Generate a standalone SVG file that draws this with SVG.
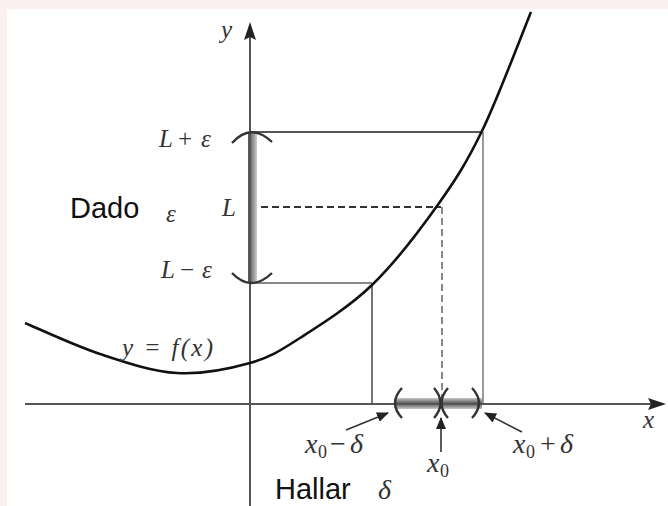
<svg xmlns="http://www.w3.org/2000/svg" width="668" height="506" viewBox="0 0 668 506">
<style>
.m{font-family:"Liberation Serif","DejaVu Serif",serif;font-style:italic;font-size:25px;fill:#333}
.mu{font-family:"Liberation Serif","DejaVu Serif",serif;font-size:25px;fill:#333}
.mb{font-family:"Liberation Serif","DejaVu Serif",serif;font-style:italic;font-size:28px;fill:#333}
.mbu{font-family:"Liberation Serif","DejaVu Serif",serif;font-size:28px;fill:#333}
.sub{font-family:"Liberation Serif","DejaVu Serif",serif;font-size:18px;fill:#333}
.t{font-family:"Liberation Sans",Arial,sans-serif;font-size:29px;fill:#111}
.ax{stroke:#555;stroke-width:2;fill:none}
.guide{stroke-width:2;fill:none}
.arr{stroke:#333;stroke-width:1.6;fill:none;marker-end:url(#ah)}
.par{stroke:#333;stroke-width:2.4;fill:none}
</style>
<defs>
<marker id="ah" viewBox="0 0 12 10" refX="11" refY="5" markerWidth="12" markerHeight="10" markerUnits="userSpaceOnUse" orient="auto">
<path d="M0 0 L12 5 L0 10 Z" fill="#222"/>
</marker>
<linearGradient id="hb" x1="0" y1="0" x2="0" y2="1">
<stop offset="0" stop-color="#c8c8c8"/>
<stop offset="0.5" stop-color="#555"/>
<stop offset="1" stop-color="#c8c8c8"/>
</linearGradient>
<linearGradient id="vb" x1="0" y1="0" x2="1" y2="0">
<stop offset="0" stop-color="#555"/>
<stop offset="0.5" stop-color="#888"/>
<stop offset="1" stop-color="#ccc"/>
</linearGradient>
</defs>
<rect x="0" y="0" width="668" height="506" fill="#fcf0f0"/>
<rect x="7" y="9" width="661" height="497" fill="#fff"/>

<g id="guides">
<line class="guide" x1="250" y1="132" x2="482" y2="132" stroke="#555"/>
<line class="guide" x1="483" y1="132" x2="483" y2="404" stroke="#9a9a9a"/>
<line class="guide" x1="250" y1="207" x2="441" y2="207" stroke="#333" stroke-dasharray="7,4"/>
<line class="guide" x1="442" y1="207" x2="442" y2="404" stroke="#888" stroke-dasharray="7,4"/>
<line class="guide" x1="250" y1="283" x2="372" y2="283" stroke="#888"/>
<line class="guide" x1="372" y1="285" x2="372" y2="404" stroke="#777"/>
</g>

<g id="bands">
<rect x="248" y="132" width="9" height="151" fill="url(#vb)"/>
<rect x="395" y="398" width="87" height="11" fill="url(#hb)"/>
</g>

<g id="axes">
<line class="ax" x1="25" y1="404" x2="652" y2="404"/>
<path d="M666 404 L648 398 L651 404 L648 410 Z" fill="#222"/>
<line class="ax" x1="250" y1="506" x2="250" y2="36"/>
<path d="M250 22 L244 40 L250 37 L256 40 Z" fill="#222"/>
</g>

<g id="curve">
<path d="M25 323 C37.5 328.2 74.7 345.7 100 354 C125.3 362.3 152 371.5 177 373 C202 374.5 229.5 368.8 250 363 C270.5 357.2 279.7 351 300 338 C320.3 325 349.2 307 372 285 C394.8 263 418.7 231.7 437 206 C455.3 180.3 466.3 163.3 482 131 C497.7 98.7 522.8 31.8 531 12" fill="none" stroke="#111" stroke-width="2.6"/>
</g>

<g id="brackets">
<path class="par" d="M232 143 Q251 122 272 142"/>
<path class="par" d="M232 273 Q251 293 272 273"/>
<path class="par" d="M402 388 Q388 403 402 418"/>
<path class="par" d="M434 388 Q447 403 434 418"/>
<path class="par" d="M448 388 Q435 403 448 418"/>
<path class="par" d="M472 388 Q486 403 472 418"/>
</g>

<g id="connectors">
<line class="arr" x1="346" y1="430" x2="388" y2="413"/>
<line class="arr" x1="441" y1="452" x2="441" y2="418"/>
<line class="arr" x1="522" y1="432" x2="485" y2="413"/>
</g>

<g id="labels">
<text class="m" x="221" y="38">y</text>
<text class="m" x="643" y="428">x</text>
<text class="m" x="159" y="147">L</text><text class="mu" x="178" y="147">+</text><text class="m" x="201" y="147">ε</text>
<text class="m" x="222" y="216">L</text>
<text class="m" x="161" y="278">L</text><text class="mu" x="180" y="278">−</text><text class="m" x="202" y="278">ε</text>
<text class="m" x="122" y="356" font-size="27" textLength="91" lengthAdjust="spacing">y = f(x)</text>
<text class="mb" x="305" y="453">x</text><text class="sub" x="318" y="458">0</text><text class="mbu" x="330" y="453">−</text><text class="mb" x="350" y="453">δ</text>
<text class="mb" x="427" y="472">x</text><text class="sub" x="440" y="477">0</text>
<text class="mb" x="513" y="453">x</text><text class="sub" x="526" y="458">0</text><text class="mbu" x="540" y="453">+</text><text class="mb" x="560" y="453">δ</text>
<text class="t" x="70" y="218">Dado</text>
<text class="m" x="166" y="222" font-size="27">ε</text>
<text class="t" x="275" y="499" font-size="28">Hallar</text>
<text class="mb" x="378" y="499">δ</text>
</g>
</svg>
